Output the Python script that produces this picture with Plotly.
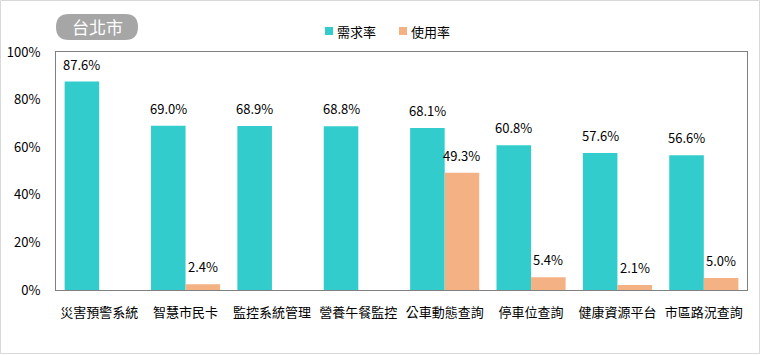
import plotly.graph_objects as go

categories = ["災害預警系統", "智慧市民卡", "監控系統管理", "營養午餐監控",
              "公車動態查詢", "停車位查詢", "健康資源平台", "市區路況查詢"]
demand = [87.6, 69.0, 68.9, 68.8, 68.1, 60.8, 57.6, 56.6]
usage = [None, 2.4, None, None, 49.3, 5.4, 2.1, 5.0]
series_names = ["需求率", "使用率"]
yticks = [0, 20, 40, 60, 80, 100]
title_text = "台北市"

TEAL = "#33CCCC"
ORANGE = "#F4B183"
FONT = "Noto Sans CJK TC"
colors = [TEAL, ORANGE]

W, H = 761, 355
L, R, T, B = 56, 14, 52, 65
PW, PH = W - L - R, H - T - B


def px(x):
    return (x - L) / PW


def py(y):
    return (H - B - y) / PH


fig = go.Figure()
fig.add_trace(go.Bar(name=series_names[0], x=categories, y=[v / 100 for v in demand],
                     marker=dict(color=TEAL, line=dict(width=0))))
fig.add_trace(go.Bar(name=series_names[1], x=categories,
                     y=[None if v is None else v / 100 for v in usage],
                     marker=dict(color=ORANGE, line=dict(width=0))))

annotations = []
for i, v in enumerate(demand):
    annotations.append(dict(x=i - 0.2, y=v / 100, xref="x", yref="y", text=f"{v:.1f}%",
                            showarrow=False, yanchor="bottom", yshift=6,
                            font=dict(size=13, color="#000000", family=FONT)))
for i, v in enumerate(usage):
    if v is None:
        continue
    annotations.append(dict(x=i + 0.2, y=v / 100, xref="x", yref="y", text=f"{v:.1f}%",
                            showarrow=False, yanchor="bottom", yshift=6,
                            font=dict(size=13, color="#000000", family=FONT)))

# title badge text
annotations.append(dict(x=px(97), y=py(27), xref="paper", yref="paper", text=title_text,
                        showarrow=False, xanchor="center", yanchor="middle",
                        font=dict(size=17, color="#ffffff", family=FONT)))

# rounded pill badge
bx0, bx1, by0, by1 = 56, 138, 14, 40
r = (by1 - by0) / 2
path = (f"M {px(bx0 + r)},{py(by0)} L {px(bx1 - r)},{py(by0)} "
        f"Q {px(bx1)},{py(by0)} {px(bx1)},{py(by0 + r)} "
        f"Q {px(bx1)},{py(by1)} {px(bx1 - r)},{py(by1)} "
        f"L {px(bx0 + r)},{py(by1)} "
        f"Q {px(bx0)},{py(by1)} {px(bx0)},{py(by0 + r)} "
        f"Q {px(bx0)},{py(by0)} {px(bx0 + r)},{py(by0)} Z")
shapes = [
    dict(type="path", xref="paper", yref="paper", path=path,
         fillcolor="#A6A6A6", line=dict(width=0), layer="below"),
    dict(type="rect", xref="paper", yref="paper",
         x0=px(0.5), x1=px(759.5), y0=py(353.5), y1=py(0.5),
         line=dict(color="#D9D9D9", width=1), fillcolor="rgba(0,0,0,0)"),
]

# manual legend
legend_x = [325, 399]
for name, col, lx in zip(series_names, colors, legend_x):
    shapes.append(dict(type="rect", xref="paper", yref="paper",
                       x0=px(lx), x1=px(lx + 8), y0=py(35), y1=py(27),
                       fillcolor=col, line=dict(width=0)))
    annotations.append(dict(x=px(lx + 10), y=py(31), xref="paper", yref="paper",
                            text=name, showarrow=False, xanchor="left", yanchor="middle",
                            font=dict(size=13, color="#000000", family=FONT)))

fig.update_layout(
    width=W, height=H,
    margin=dict(l=L, r=R, t=T, b=B, autoexpand=False),
    paper_bgcolor="white", plot_bgcolor="white",
    barmode="group", bargap=0.2, bargroupgap=0,
    font=dict(family=FONT, size=13, color="#000000"),
    showlegend=False,
    annotations=annotations,
    shapes=shapes,
)
fig.update_xaxes(showline=True, mirror=True, linecolor="#808080", linewidth=1,
                 showgrid=False, ticks="outside", ticklen=10, tickcolor="rgba(0,0,0,0)",
                 tickfont=dict(size=13, family=FONT), automargin=False)
fig.update_yaxes(range=[0, 1], tickvals=[t / 100 for t in yticks],
                 ticktext=[f"{t}%" for t in yticks],
                 showline=True, mirror=True, linecolor="#808080", linewidth=1,
                 showgrid=False, zeroline=False, ticks="outside", ticklen=12,
                 tickcolor="rgba(0,0,0,0)", tickfont=dict(size=13, family=FONT),
                 automargin=False)

fig.write_html("out.html", config={"displayModeBar": False},
               post_script="document.body.style.margin='0';document.body.style.overflow='hidden';")
